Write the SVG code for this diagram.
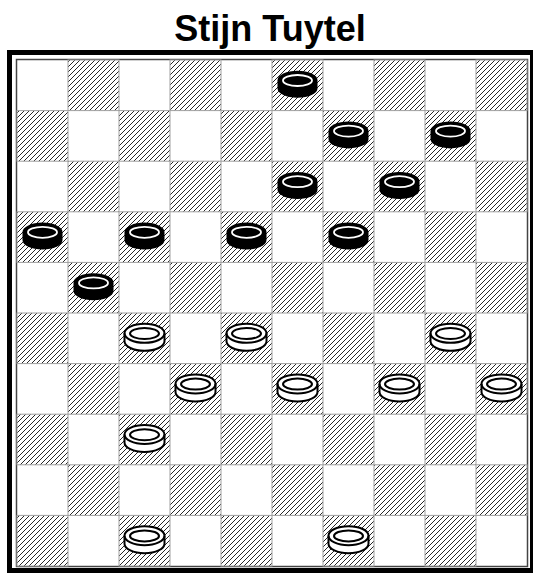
<svg xmlns="http://www.w3.org/2000/svg" xmlns:xlink="http://www.w3.org/1999/xlink" width="533" height="573" viewBox="0 0 533 573">
<style>
.d{fill:url(#hatch);stroke:#a0a0a0;stroke-width:1}
.title{font-family:"Liberation Sans",Arial,sans-serif;font-weight:bold;font-size:36px;fill:#000}
</style>
<defs>
<pattern id="hatch" patternUnits="userSpaceOnUse" width="5" height="5">
<rect width="5" height="5" fill="#fff"/>
<path d="M0,5 L5,0 M-1,1 L1,-1 M4,6 L6,4" stroke="#000" stroke-width="0.85"/>
</pattern>
<g id="bp">
<path d="M-20,-5 A20,9.5 0 0 1 20,-5 L20,3 A20,9.5 0 0 1 -20,3 Z" fill="#000"/>
<ellipse cx="0" cy="-4.8" rx="14.5" ry="5.5" fill="none" stroke="#fff" stroke-width="1.8"/>
</g>
<g id="wp">
<path d="M-20,-5 A20,9.5 0 0 1 20,-5 L20,3 A20,9.5 0 0 1 -20,3 Z" fill="#fff" stroke="#000" stroke-width="2"/>
<path d="M-20,-5 A20,9.5 0 0 0 20,-5" fill="none" stroke="#000" stroke-width="2"/>
<ellipse cx="0" cy="-4.8" rx="14.5" ry="5.5" fill="none" stroke="#000" stroke-width="2"/>
</g>
</defs>
<rect width="533" height="573" fill="#fff"/>
<text class="title" x="270" y="41" text-anchor="middle">Stijn Tuytel</text>
<g id="frame">
<rect x="9.5" y="52.5" width="523" height="518" fill="none" stroke="#000" stroke-width="5"/>
<rect x="16.5" y="59.5" width="511" height="507" fill="#fff" stroke="#444" stroke-width="1.5"/>
</g>
<g id="board">
<rect class="d" x="68" y="60" width="51" height="50.6"/>
<rect class="d" x="170" y="60" width="51" height="50.6"/>
<rect class="d" x="272" y="60" width="51" height="50.6"/>
<rect class="d" x="374" y="60" width="51" height="50.6"/>
<rect class="d" x="476" y="60" width="51" height="50.6"/>
<rect class="d" x="17" y="110.6" width="51" height="50.6"/>
<rect class="d" x="119" y="110.6" width="51" height="50.6"/>
<rect class="d" x="221" y="110.6" width="51" height="50.6"/>
<rect class="d" x="323" y="110.6" width="51" height="50.6"/>
<rect class="d" x="425" y="110.6" width="51" height="50.6"/>
<rect class="d" x="68" y="161.2" width="51" height="50.6"/>
<rect class="d" x="170" y="161.2" width="51" height="50.6"/>
<rect class="d" x="272" y="161.2" width="51" height="50.6"/>
<rect class="d" x="374" y="161.2" width="51" height="50.6"/>
<rect class="d" x="476" y="161.2" width="51" height="50.6"/>
<rect class="d" x="17" y="211.8" width="51" height="50.6"/>
<rect class="d" x="119" y="211.8" width="51" height="50.6"/>
<rect class="d" x="221" y="211.8" width="51" height="50.6"/>
<rect class="d" x="323" y="211.8" width="51" height="50.6"/>
<rect class="d" x="425" y="211.8" width="51" height="50.6"/>
<rect class="d" x="68" y="262.4" width="51" height="50.6"/>
<rect class="d" x="170" y="262.4" width="51" height="50.6"/>
<rect class="d" x="272" y="262.4" width="51" height="50.6"/>
<rect class="d" x="374" y="262.4" width="51" height="50.6"/>
<rect class="d" x="476" y="262.4" width="51" height="50.6"/>
<rect class="d" x="17" y="313" width="51" height="50.6"/>
<rect class="d" x="119" y="313" width="51" height="50.6"/>
<rect class="d" x="221" y="313" width="51" height="50.6"/>
<rect class="d" x="323" y="313" width="51" height="50.6"/>
<rect class="d" x="425" y="313" width="51" height="50.6"/>
<rect class="d" x="68" y="363.6" width="51" height="50.6"/>
<rect class="d" x="170" y="363.6" width="51" height="50.6"/>
<rect class="d" x="272" y="363.6" width="51" height="50.6"/>
<rect class="d" x="374" y="363.6" width="51" height="50.6"/>
<rect class="d" x="476" y="363.6" width="51" height="50.6"/>
<rect class="d" x="17" y="414.2" width="51" height="50.6"/>
<rect class="d" x="119" y="414.2" width="51" height="50.6"/>
<rect class="d" x="221" y="414.2" width="51" height="50.6"/>
<rect class="d" x="323" y="414.2" width="51" height="50.6"/>
<rect class="d" x="425" y="414.2" width="51" height="50.6"/>
<rect class="d" x="68" y="464.8" width="51" height="50.6"/>
<rect class="d" x="170" y="464.8" width="51" height="50.6"/>
<rect class="d" x="272" y="464.8" width="51" height="50.6"/>
<rect class="d" x="374" y="464.8" width="51" height="50.6"/>
<rect class="d" x="476" y="464.8" width="51" height="50.6"/>
<rect class="d" x="17" y="515.4" width="51" height="50.6"/>
<rect class="d" x="119" y="515.4" width="51" height="50.6"/>
<rect class="d" x="221" y="515.4" width="51" height="50.6"/>
<rect class="d" x="323" y="515.4" width="51" height="50.6"/>
<rect class="d" x="425" y="515.4" width="51" height="50.6"/>
</g>
<g id="black-pieces">
<use xlink:href="#bp" x="297.5" y="85.3"/>
<use xlink:href="#bp" x="348.5" y="135.9"/>
<use xlink:href="#bp" x="450.5" y="135.9"/>
<use xlink:href="#bp" x="297.5" y="186.5"/>
<use xlink:href="#bp" x="399.5" y="186.5"/>
<use xlink:href="#bp" x="42.5" y="237.1"/>
<use xlink:href="#bp" x="144.5" y="237.1"/>
<use xlink:href="#bp" x="246.5" y="237.1"/>
<use xlink:href="#bp" x="348.5" y="237.1"/>
<use xlink:href="#bp" x="93.5" y="287.7"/>
</g>
<g id="white-pieces">
<use xlink:href="#wp" x="144.5" y="338.3"/>
<use xlink:href="#wp" x="246.5" y="338.3"/>
<use xlink:href="#wp" x="450.5" y="338.3"/>
<use xlink:href="#wp" x="195.5" y="388.9"/>
<use xlink:href="#wp" x="297.5" y="388.9"/>
<use xlink:href="#wp" x="399.5" y="388.9"/>
<use xlink:href="#wp" x="501.5" y="388.9"/>
<use xlink:href="#wp" x="144.5" y="439.5"/>
<use xlink:href="#wp" x="144.5" y="540.7"/>
<use xlink:href="#wp" x="348.5" y="540.7"/>
</g>
</svg>
